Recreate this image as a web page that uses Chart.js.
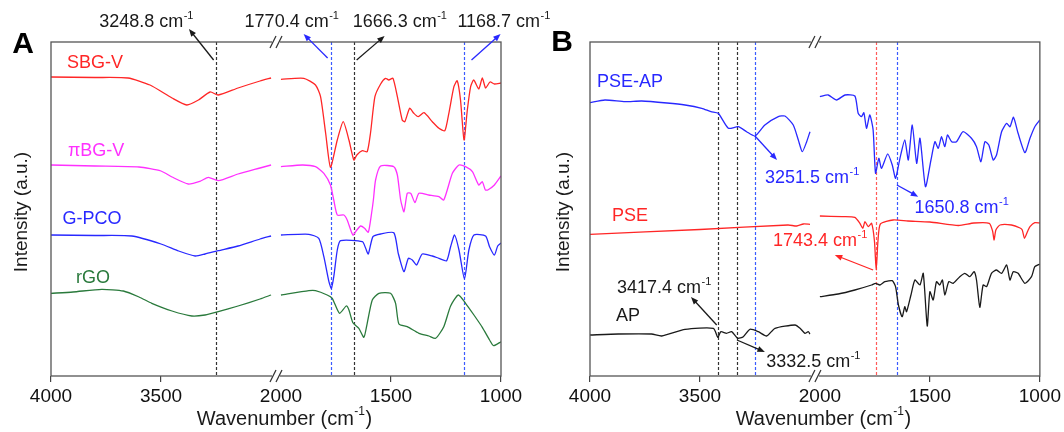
<!DOCTYPE html>
<html>
<head>
<meta charset="utf-8">
<script src="https://cdn.jsdelivr.net/npm/chart.js@4.4.1/dist/chart.umd.min.js"></script>
<style>
  html, body { margin: 0; padding: 0; background: #fff; }
  #wrap { position: relative; width: 1064px; height: 432px; }
  .pane { position: absolute; top: 0; height: 432px; }
</style>
</head>
<body>
<div id="wrap">
  <div class="pane" style="left:0;width:560px"><canvas id="chartA"></canvas></div>
  <div class="pane" style="left:532px;width:532px"><canvas id="chartB"></canvas></div>
</div>
<script>
// tick labels on the broken wavenumber axis
const X_TICKS = [4000, 3500, 2000, 1500, 1000];

// Panel A spectra (wavenumber / intensity, a.u.)
const sbgWn = [4000, 3800, 3650, 3550, 3450, 3383, 3330, 3277, 3240, 3150, 3050, 3000,
  2000, 1896, 1843, 1820, 1797, 1775, 1744, 1717, 1691, 1669, 1655, 1630, 1608, 1593, 1573, 1547, 1525, 1510,
  1491, 1471, 1449, 1437, 1415, 1396, 1376, 1350, 1312, 1282, 1255, 1237, 1214, 1199, 1184, 1168, 1153, 1138,
  1124, 1101, 1085, 1070, 1050, 1030, 1000];
const sbgI = [299, 298.5, 298, 291, 278, 271, 276, 284, 281, 288, 295, 298,
  296.7, 297.7, 291, 279.3, 243, 208.7, 236, 254.3, 236, 216, 221, 225.3, 224.3, 243, 279.3, 292, 297.7, 296,
  297.7, 279.3, 256, 254.3, 267.7, 262.7, 259.3, 263.3, 254.3, 247.7, 245.3, 262.7, 289.3, 295.3, 276, 236, 266, 289.3,
  296, 287, 298, 288, 294, 292, 293];

const pbgWn = [4000, 3800, 3600, 3500, 3450, 3376, 3320, 3285, 3240, 3150, 3050, 3000,
  2000, 1901, 1843, 1805, 1775, 1760, 1744, 1714, 1699, 1673, 1655, 1638, 1620, 1603, 1588, 1580, 1570, 1547,
  1487, 1471, 1456, 1441, 1426, 1410, 1391, 1373, 1328, 1282, 1260, 1221, 1191, 1161, 1130, 1101, 1085, 1071,
  1060, 1030, 1000];
const pbgI = [211, 210, 209, 205, 199, 192, 195, 198.7, 195.3, 202, 208, 211,
  209.3, 211, 209.3, 202.7, 191, 176, 161, 161, 156, 141, 146, 150, 147.7, 143.7, 163, 176, 196, 210,
  209.3, 201, 176, 164.3, 182.7, 182.7, 173.3, 182.7, 181, 179.3, 176, 202.7, 211, 209.3, 204.3, 191, 194.3, 186,
  186, 191, 200];

const gpcoWn = [4000, 3800, 3633, 3500, 3420, 3345, 3300, 3240, 3150, 3050, 3000,
  2000, 1873, 1828, 1805, 1782, 1771, 1760, 1744, 1729, 1630, 1615, 1603, 1582, 1547, 1487, 1467, 1441, 1421,
  1403, 1384, 1358, 1312, 1282, 1247, 1229, 1211, 1191, 1166, 1146, 1123, 1070, 1052, 1030, 1015, 1000];
const gpcoI = [141, 140.5, 140, 132, 125, 120, 122, 125.3, 130, 137, 140,
  141, 141.7, 137.7, 119.3, 94.3, 87.7, 99.3, 126, 135.3, 134.3, 127.7, 122, 139.3, 142, 143.3, 122.7, 104.3, 117.7,
  116, 111, 122, 120, 117.7, 115.3, 129.3, 141, 126, 97, 126, 141, 140, 129.3, 121, 130, 133];

const rgoWn = [4000, 3900, 3770, 3671, 3600, 3542, 3450, 3360, 3300, 3240, 3150, 3050, 3000,
  2000, 1873, 1843, 1790, 1767, 1734, 1703, 1691, 1673, 1646, 1623, 1608, 1585, 1555, 1502, 1479, 1464,
  1426, 1373, 1328, 1297, 1260, 1229, 1194, 1161, 1123, 1085, 1052, 1034, 1000];
const rgoI = [82.7, 84, 86.7, 85, 79, 72.7, 65, 60, 61, 64.3, 70, 77, 81,
  81, 85.3, 85.3, 81, 77.7, 62.7, 70, 66, 53.3, 47.7, 38.7, 52.7, 76, 82.7, 82.7, 72.7, 52,
  49.3, 42.7, 40, 37.7, 49.3, 70, 81, 72.7, 61, 48.7, 36, 30.3, 34.3];

// Panel B spectra
const pseapWn = [4000, 3932, 3841, 3765, 3650, 3568, 3492, 3450, 3417, 3371, 3326, 3288, 3250, 3205, 3144,
  3114, 3076, 3053, 3035, 3015, 3000,
  2000, 1962, 1924, 1886, 1841, 1826, 1811, 1800, 1788, 1773, 1758, 1747, 1732, 1720, 1692, 1671, 1656, 1636,
  1614, 1598, 1580, 1560, 1545, 1520, 1495, 1477, 1462, 1447, 1432, 1420, 1401, 1379, 1349, 1311, 1288, 1268,
  1250, 1232, 1212, 1197, 1174, 1151, 1136, 1120, 1099, 1068, 1045, 1023, 1000];
const pseapI = [273.3, 276, 274.3, 275, 273, 271, 267.7, 264.3, 262.7, 247.7, 249.3, 244.3, 240, 251, 259.3,
  260, 251, 236, 224.3, 234.3, 244.3,
  279.3, 281, 276, 281, 280, 262.7, 259.3, 263.3, 247.7, 261, 246, 202.7, 217.7, 207.7, 222, 211, 197.7, 217.7,
  236, 216, 251, 212.7, 237.7, 189.3, 216, 234.3, 227.7, 239.3, 229.3, 241, 234.3, 234.3, 244.3, 237.7, 229.3, 214.3,
  234.3, 231, 216, 221, 244.3, 252.7, 249.3, 258.7, 242.7, 223.3, 237.7, 249.3, 256];

const pseWn = [4000, 3500, 3100, 3060, 3030, 3000,
  2000, 1900, 1841, 1818, 1805, 1795, 1780, 1765, 1752, 1744, 1736, 1725, 1667, 1600, 1500, 1370, 1300, 1230,
  1215, 1208, 1200, 1181, 1129, 1090, 1080, 1070, 1055, 1045, 1023, 1000];
const pseI = [141.7, 146.5, 151, 150, 152, 151.7,
  160, 159.3, 158.7, 152.7, 147.7, 154.3, 149.3, 152.7, 135, 106, 135, 152, 156, 155, 154, 150.5, 153, 152.7,
  145, 136, 146, 151, 151, 148, 146, 137.7, 145, 149.3, 153.3, 153];

const apWn = [4000, 3871, 3720, 3674, 3568, 3439, 3419, 3405, 3379, 3356, 3329, 3303, 3273, 3235, 3197, 3159,
  3068, 3045, 3023, 3008, 3000,
  2000, 1917, 1841, 1765, 1747, 1727, 1705, 1671, 1656, 1643, 1626, 1614, 1606, 1586, 1568, 1545, 1530, 1512,
  1500, 1485, 1470, 1455, 1443, 1432, 1414, 1394, 1364, 1341, 1318, 1299, 1288, 1273, 1258, 1242, 1220, 1197,
  1174, 1151, 1136, 1121, 1099, 1068, 1038, 1023, 1000];
const apI = [41, 42, 42, 40, 46.7, 47.7, 38.7, 44.3, 42.7, 44.3, 37.7, 39.3, 46.7, 44.3, 40, 47.7,
  51, 47.7, 42.7, 44.3, 42,
  79.3, 82, 86, 91, 92.7, 91, 94.3, 95.3, 89.3, 71, 59.3, 69.3, 64.3, 81, 96, 91, 102.7, 50,
  84.3, 76, 94.3, 91, 96, 81, 94.3, 92.7, 99.3, 102.7, 99.3, 104.3, 96, 68.7, 91, 89.3, 102.7, 106,
  102.7, 111, 96, 104.3, 102.7, 92.7, 99.3, 109.3, 112];

const FONT = '"Liberation Sans", Arial, Helvetica, sans-serif';
const INK = '#1a1a1a';
const RED = '#ff2626';
const MAGENTA = '#ff30ff';
const BLUE = '#2828ff';
const GREEN = '#2a7a3c';
const DASH_K = '#333333';
const DASH_B = '#3a5aff';
const DASH_R = '#ff5a5a';

// the 3000-2000 stretch is cut out of the axis, leaving a small gap
const SHIFT = 955;
const BREAK = 2022;
const toAxis = wn => (wn > 2500 ? wn - SHIFT : wn);
const fromAxis = v => (v > BREAK ? v + SHIFT : v);

function series(wn, inten) {
  const pts = [];
  wn.forEach((w, i) => {
    if (i > 0 && wn[i - 1] > 2500 && w <= 2500) pts.push({ x: BREAK, y: null });
    pts.push({ x: toAxis(w), y: inten[i] });
  });
  return pts;
}

function cmText(ctx, num, x, y, color, size) {
  const main = num + ' cm';
  ctx.textAlign = 'left';
  ctx.textBaseline = 'middle';
  ctx.fillStyle = color;
  ctx.font = size + 'px ' + FONT;
  const w1 = ctx.measureText(main).width;
  const sub = Math.round(size * 0.62) + 'px ' + FONT;
  ctx.font = sub;
  const w2 = ctx.measureText('-1').width;
  const x0 = x - (w1 + w2) / 2;
  ctx.font = size + 'px ' + FONT;
  ctx.fillText(main, x0, y);
  ctx.font = sub;
  ctx.fillText('-1', x0 + w1 + 0.5, y - size * 0.36);
}

function arrow(ctx, x1, y1, x2, y2, color) {
  const ang = Math.atan2(y2 - y1, x2 - x1);
  const h = 8;
  ctx.strokeStyle = color;
  ctx.fillStyle = color;
  ctx.lineWidth = 1.3;
  ctx.setLineDash([]);
  ctx.beginPath();
  ctx.moveTo(x1, y1);
  ctx.lineTo(x2 - Math.cos(ang) * h * 0.6, y2 - Math.sin(ang) * h * 0.6);
  ctx.stroke();
  ctx.beginPath();
  ctx.moveTo(x2, y2);
  ctx.lineTo(x2 - h * Math.cos(ang - 0.38), y2 - h * Math.sin(ang - 0.38));
  ctx.lineTo(x2 - h * Math.cos(ang + 0.38), y2 - h * Math.sin(ang + 0.38));
  ctx.closePath();
  ctx.fill();
}

function breakMark(ctx, cx, y) {
  ctx.fillStyle = '#fff';
  ctx.fillRect(cx - 4, y - 2, 8, 4);
  ctx.strokeStyle = '#333';
  ctx.lineWidth = 1.2;
  [-3, 3].forEach(d => {
    ctx.beginPath();
    ctx.moveTo(cx + d - 3, y + 6);
    ctx.lineTo(cx + d + 3, y - 6);
    ctx.stroke();
  });
}

function panelPlugin(p) {
  return {
    id: 'panel' + p.letter,
    beforeDatasetsDraw(chart) {
      const { ctx, chartArea: a, scales: { x } } = chart;
      ctx.save();
      ctx.lineWidth = 1.2;
      ctx.setLineDash([3, 2]);
      p.vlines.forEach(v => {
        const px = Math.round(x.getPixelForValue(toAxis(v.wn))) + 0.5;
        ctx.strokeStyle = v.color;
        ctx.beginPath();
        ctx.moveTo(px, a.top);
        ctx.lineTo(px, a.bottom);
        ctx.stroke();
      });
      ctx.restore();
    },
    afterDraw(chart) {
      const { ctx, chartArea: a, scales: { x, y } } = chart;
      const X = wn => x.getPixelForValue(toAxis(wn));
      ctx.save();
      // frame
      ctx.strokeStyle = '#555';
      ctx.lineWidth = 1.3;
      ctx.strokeRect(a.left, a.top, a.right - a.left, a.bottom - a.top);
      const bx = x.getPixelForValue(BREAK + 0.5);
      breakMark(ctx, bx, a.top);
      breakMark(ctx, bx, a.bottom);

      p.arrows.forEach(r => arrow(ctx, X(r.from[0]), y.getPixelForValue(r.from[1]),
        X(r.to[0]), y.getPixelForValue(r.to[1]), r.color));
      p.notes.forEach(n => cmText(ctx, n.num, X(n.wn), y.getPixelForValue(n.y), n.color, 18));

      ctx.textAlign = 'center';
      ctx.textBaseline = 'middle';
      ctx.font = '18px ' + FONT;
      p.labels.forEach(l => {
        ctx.fillStyle = l.color;
        ctx.fillText(l.text, X(l.wn), y.getPixelForValue(l.y));
      });

      // axis titles
      ctx.fillStyle = INK;
      const tx = a.left + (a.right - a.left) / 2 + 8;
      ctx.font = '20px ' + FONT;
      const t1 = 'Wavenumber (cm';
      const w1 = ctx.measureText(t1).width;
      ctx.font = '12px ' + FONT;
      const w2 = ctx.measureText('-1').width;
      ctx.font = '20px ' + FONT;
      const w3 = ctx.measureText(')').width;
      let x0 = tx - (w1 + w2 + w3) / 2;
      ctx.textAlign = 'left';
      ctx.fillText(t1, x0, 419);
      ctx.font = '12px ' + FONT;
      ctx.fillText('-1', x0 + w1 + 0.5, 412);
      ctx.font = '20px ' + FONT;
      ctx.fillText(')', x0 + w1 + w2 + 1, 419);

      ctx.save();
      ctx.translate(p.yTitleX, 212);
      ctx.rotate(-Math.PI / 2);
      ctx.textAlign = 'center';
      ctx.font = '19px ' + FONT;
      ctx.fillText('Intensity (a.u.)', 0, 0);
      ctx.restore();

      ctx.textAlign = 'center';
      ctx.font = 'bold 30px ' + FONT;
      ctx.fillStyle = '#000';
      ctx.fillText(p.letter, p.letterX, p.letterY);
      ctx.restore();
    }
  };
}

function makeChart(id, lines, panel) {
  return new Chart(document.getElementById(id), {
    type: 'line',
    data: {
      datasets: lines.map(d => ({
        data: series(d.wn, d.i),
        borderColor: d.color,
        borderWidth: 1.3,
        pointRadius: 0,
        tension: 0.2,
        spanGaps: false,
        fill: false
      }))
    },
    options: {
      responsive: true,
      maintainAspectRatio: false,
      animation: false,
      devicePixelRatio: 1,
      layout: { padding: panel.padding },
      plugins: { legend: { display: false }, tooltip: { enabled: false } },
      scales: {
        x: {
          type: 'linear',
          reverse: true,
          min: 1000,
          max: 4000 - SHIFT,
          afterBuildTicks: s => { s.ticks = X_TICKS.map(v => ({ value: toAxis(v) })); },
          afterFit: s => { s.height = 56; },
          ticks: {
            callback: v => String(Math.round(fromAxis(v))),
            font: { family: FONT, size: 19 },
            color: '#111',
            padding: 3,
            maxRotation: 0,
            autoSkip: false
          },
          grid: {
            drawOnChartArea: false,
            drawTicks: true,
            tickLength: 6,
            lineWidth: 1.2,
            color: c => (c.tick && c.tick.value === 2000 ? 'rgba(0,0,0,0)' : '#444')
          },
          border: { display: false }
        },
        y: { display: false, min: 0, max: 334 }
      }
    },
    plugins: [panelPlugin(panel)]
  });
}

const panelA = {
  letter: 'A', letterX: 23, letterY: 45, yTitleX: 22,
  padding: { left: 51, right: 59, top: 42, bottom: 0 },
  vlines: [
    { wn: 3248.8, color: DASH_K }, { wn: 1770.4, color: DASH_B },
    { wn: 1666.3, color: DASH_K }, { wn: 1168.7, color: DASH_B }
  ],
  notes: [
    { num: '3248.8', wn: 3568, y: 354, color: INK },
    { num: '1770.4', wn: 1952, y: 354, color: INK },
    { num: '1666.3', wn: 1461, y: 354, color: INK },
    { num: '1168.7', wn: 988, y: 354, color: INK }
  ],
  arrows: [
    { from: [3261, 316], to: [3373, 347], color: INK },
    { from: [1788, 318], to: [1897, 342], color: BLUE },
    { from: [1656, 316], to: [1529, 340], color: INK },
    { from: [1134, 316], to: [1002, 342], color: BLUE }
  ],
  labels: [
    { text: 'SBG-V', wn: 3800, y: 313, color: RED },
    { text: 'πBG-V', wn: 3795, y: 225, color: MAGENTA },
    { text: 'G-PCO', wn: 3814, y: 157, color: BLUE },
    { text: 'rGO', wn: 3809, y: 98, color: GREEN }
  ]
};

const panelB = {
  letter: 'B', letterX: 30, letterY: 43, yTitleX: 32,
  padding: { left: 58, right: 24, top: 42, bottom: 0 },
  vlines: [
    { wn: 3417.4, color: DASH_K }, { wn: 3332.5, color: DASH_K }, { wn: 3251.5, color: DASH_B },
    { wn: 1743.4, color: DASH_R }, { wn: 1650.8, color: DASH_B }
  ],
  notes: [
    { num: '3417.4', wn: 3664, y: 88, color: INK },
    { num: '3332.5', wn: 2986, y: 14, color: INK },
    { num: '3251.5', wn: 2991, y: 198, color: BLUE },
    { num: '1650.8', wn: 1357, y: 168, color: BLUE },
    { num: '1743.4', wn: 2000, y: 135, color: RED }
  ],
  arrows: [
    { from: [3424, 51], to: [3541, 79], color: INK },
    { from: [3332, 36], to: [3205, 24], color: INK },
    { from: [3250, 240], to: [3150, 216], color: BLUE },
    { from: [1650, 191], to: [1553, 179.3], color: BLUE },
    { from: [1758, 106], to: [1932, 121], color: RED }
  ],
  labels: [
    { text: 'PSE-AP', wn: 3818, y: 294, color: BLUE },
    { text: 'PSE', wn: 3818, y: 160, color: RED },
    { text: 'AP', wn: 3827, y: 60, color: INK }
  ]
};

makeChart('chartA', [
  { wn: sbgWn, i: sbgI, color: RED },
  { wn: pbgWn, i: pbgI, color: MAGENTA },
  { wn: gpcoWn, i: gpcoI, color: BLUE },
  { wn: rgoWn, i: rgoI, color: GREEN }
], panelA);

makeChart('chartB', [
  { wn: pseapWn, i: pseapI, color: BLUE },
  { wn: pseWn, i: pseI, color: RED },
  { wn: apWn, i: apI, color: INK }
], panelB);
</script>
</body>
</html>
